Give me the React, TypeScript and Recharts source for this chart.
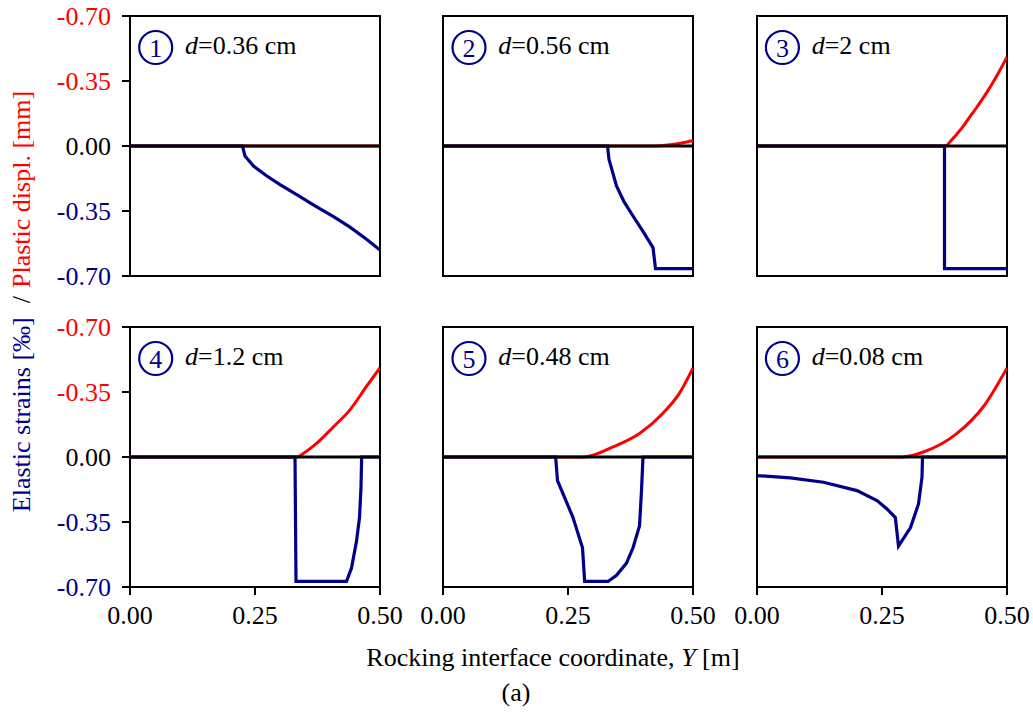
import React from 'react';
import { LineChart, Line, XAxis, YAxis, ReferenceLine, ReferenceArea } from 'recharts';

const RED = '#ff0000';
const BLUE = '#00008b';
const FONT = 'Liberation Serif, DejaVu Serif, serif';
const FS = 26;

const xTicks = [0, 0.25, 0.5];
const yTicks = [0.7, 0.35, 0, -0.35, -0.7];
const panelLabels = ['1', '2', '3', '4', '5', '6'];
const panelDepths = ['0.36', '0.56', '2', '1.2', '0.48', '0.08'];

// Elastic strains [‰] (blue)
const s1X = [0, 0.225, 0.23, 0.247, 0.273, 0.30, 0.34, 0.37, 0.407, 0.44, 0.473, 0.5];
const s1Y = [0, 0, -0.054, -0.108, -0.16, -0.208, -0.272, -0.322, -0.38, -0.437, -0.502, -0.56];
const s2X = [0, 0.329, 0.332, 0.347, 0.362, 0.38, 0.40, 0.42, 0.425, 0.5];
const s2Y = [0, 0, -0.072, -0.215, -0.30, -0.377, -0.46, -0.547, -0.66, -0.66];
const s3X = [0, 0.375, 0.375, 0.5];
const s3Y = [0, 0, -0.66, -0.66];
const s4X = [0, 0.33, 0.332, 0.433, 0.443, 0.453, 0.459, 0.462, 0.4633, 0.5];
const s4Y = [0, 0, -0.67, -0.67, -0.598, -0.453, -0.326, -0.163, 0, 0];
const s5X = [0, 0.2253, 0.229, 0.26, 0.279, 0.2833, 0.33, 0.347, 0.367, 0.38, 0.393, 0.397, 0.4, 0.5];
const s5Y = [0, 0, -0.127, -0.326, -0.489, -0.67, -0.67, -0.637, -0.571, -0.489, -0.371, -0.181, 0, 0];
const s6X = [0, 0.0667, 0.133, 0.2, 0.24, 0.26, 0.2767, 0.283, 0.307, 0.323, 0.33, 0.331, 0.5];
const s6Y = [-0.10, -0.112, -0.136, -0.181, -0.235, -0.28, -0.326, -0.48, -0.38, -0.253, -0.109, 0, 0];

// Plastic displacement [mm] (red)
const p1X = [0, 0.25, 0.5];
const p1Y = [0, 0, 0];
const p2X = [0, 0.42, 0.45, 0.475, 0.5];
const p2Y = [0, 0, -0.005, -0.015, -0.03];
const p3X = [0, 0.376, 0.39, 0.40, 0.413, 0.42, 0.44, 0.46, 0.48, 0.5];
const p3Y = [0, 0, -0.035, -0.065, -0.108, -0.135, -0.21, -0.29, -0.38, -0.48];
const p4X = [0, 0.333, 0.35, 0.373, 0.407, 0.44, 0.473, 0.5];
const p4Y = [0, 0, -0.025, -0.073, -0.163, -0.254, -0.38, -0.48];
const p5X = [0, 0.28, 0.30, 0.34, 0.393, 0.44, 0.473, 0.5];
const p5Y = [0, 0, -0.01, -0.054, -0.127, -0.236, -0.344, -0.48];
const p6X = [0, 0.29, 0.333, 0.4, 0.453, 0.5];
const p6Y = [0, 0, -0.027, -0.127, -0.272, -0.48];

const strainX = [s1X, s2X, s3X, s4X, s5X, s6X];
const strainY = [s1Y, s2Y, s3Y, s4Y, s5Y, s6Y];
const plasticX = [p1X, p2X, p3X, p4X, p5X, p6X];
const plasticY = [p1Y, p2Y, p3Y, p4Y, p5Y, p6Y];

// layout
const PLOT_LEFTS = [130, 443.3, 756.7];
const PLOT_TOPS = [16, 327];
const PLOT_W = 250;
const PLOT_H = 260;
const ML = 80;
const MT = 16;
const MR = 26;
const XH = 50;

const fmtY = (v: number) => (v === 0 ? '0.00' : '-' + Math.abs(v).toFixed(2));

const YTick = (props: any) => {
  const { x, y, payload } = props;
  const v = payload.value;
  const fill = v > 0 ? RED : v < 0 ? BLUE : '#000';
  return (
    <text x={x} y={y} dy="0.355em" textAnchor="end" fill={fill} fontSize={FS} fontFamily={FONT}>
      {fmtY(v)}
    </text>
  );
};

const Panel = ({ idx }: { idx: number }) => {
  const col = idx % 3;
  const row = Math.floor(idx / 3);
  const strain = strainX[idx].map((x, i) => ({ x, y: strainY[idx][i] }));
  const plastic = plasticX[idx].map((x, i) => ({ x, y: -plasticY[idx][i] }));
  const showX = row === 1;
  const showY = col === 0;
  return (
    <div
      style={{
        position: 'absolute',
        left: PLOT_LEFTS[col] - ML,
        top: PLOT_TOPS[row] - MT,
      }}
    >
      <LineChart
        width={ML + PLOT_W + MR}
        height={MT + PLOT_H + XH}
        margin={{ top: MT, right: MR, bottom: 0, left: 0 }}
        style={{ fontFamily: FONT, overflow: 'visible' }}
      >
        <XAxis
          type="number"
          dataKey="x"
          domain={[0, 0.5]}
          ticks={xTicks}
          allowDataOverflow
          height={XH}
          tickSize={8}
          tickMargin={11}
          axisLine={{ stroke: '#000', strokeWidth: 2 }}
          tickLine={{ stroke: '#000', strokeWidth: 2 }}
          tick={showX ? { fill: '#000', fontSize: FS, fontFamily: FONT } : false}
          tickFormatter={(v: number) => v.toFixed(2)}
          interval={0}
        />
        <YAxis
          type="number"
          domain={[-0.7, 0.7]}
          ticks={yTicks}
          allowDataOverflow
          width={ML}
          tickSize={8}
          tickMargin={11}
          axisLine={{ stroke: '#000', strokeWidth: 2 }}
          tickLine={{ stroke: '#000', strokeWidth: 2 }}
          tick={showY ? YTick : false}
          interval={0}
        />
        <ReferenceArea x1={0} x2={0.5} y1={-0.7} y2={0.7} fill="none" stroke="#000" strokeWidth={2} />
        <Line
          data={plastic}
          dataKey="y"
          type="monotone"
          stroke={RED}
          strokeWidth={3}
          dot={false}
          isAnimationActive={false}
        />
        <Line
          data={strain}
          dataKey="y"
          type="linear"
          stroke={BLUE}
          strokeWidth={3.2}
          dot={false}
          isAnimationActive={false}
        />
        <ReferenceLine y={0} stroke="#000" strokeWidth={3} />
      </LineChart>
    </div>
  );
};

const Overlay = () => {
  const items = [];
  for (let i = 0; i < 6; i++) {
    const col = i % 3;
    const row = Math.floor(i / 3);
    const px = PLOT_LEFTS[col];
    const py = PLOT_TOPS[row];
    items.push(
      <g key={i}>
        <circle cx={px + 25.7} cy={py + 31.5} r={16.5} fill="#fff" stroke={BLUE} strokeWidth={2.2} />
        <text x={px + 25.7} y={py + 40.5} textAnchor="middle" fill={BLUE} fontSize={FS} fontFamily={FONT}>
          {panelLabels[i]}
        </text>
        <text x={px + 55} y={py + 38} fill="#000" fontSize={FS} fontFamily={FONT}>
          <tspan fontStyle="italic">d</tspan>
          <tspan>={panelDepths[i]} cm</tspan>
        </text>
      </g>
    );
  }
  return (
    <svg
      width={1033}
      height={720}
      style={{ position: 'absolute', left: 0, top: 0, pointerEvents: 'none' }}
    >
      {items}
      <text
        x={29.5}
        y={301.5}
        transform="rotate(-90, 29.5, 301.5)"
        textAnchor="middle"
        fontSize={FS}
        fontFamily={FONT}
      >
        <tspan fill={BLUE}>Elastic strains [‰]</tspan>
        <tspan fill="#000" dx={14}>/</tspan>
        <tspan fill={RED} dx={8}>Plastic displ. [mm]</tspan>
      </text>
      <text x={553} y={666} textAnchor="middle" fontSize={FS} fontFamily={FONT} fill="#000">
        Rocking interface coordinate, <tspan fontStyle="italic">Y</tspan> [m]
      </text>
      <text x={516} y={701} textAnchor="middle" fontSize={FS} fontFamily={FONT} fill="#000">
        (a)
      </text>
    </svg>
  );
};

export default function App() {
  return (
    <div
      style={{
        position: 'absolute',
        left: 0,
        top: 0,
        width: 1033,
        height: 720,
        background: '#fff',
        fontFamily: FONT,
      }}
    >
      {[0, 1, 2, 3, 4, 5].map((i) => (
        <Panel key={i} idx={i} />
      ))}
      <Overlay />
    </div>
  );
}
